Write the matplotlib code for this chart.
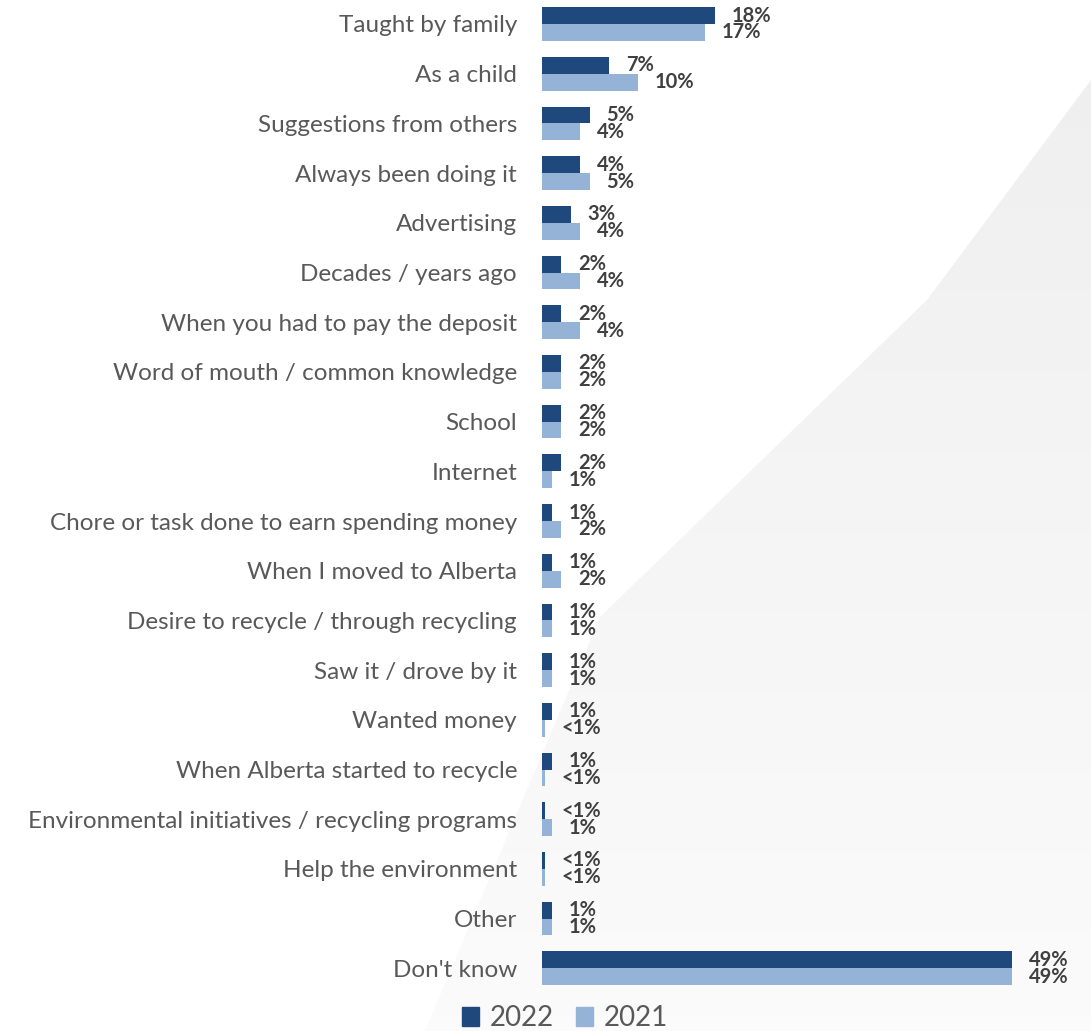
import numpy as np
import matplotlib.pyplot as plt
from matplotlib.patches import Polygon, Patch

categories = [
    "Taught by family", "As a child", "Suggestions from others",
    "Always been doing it", "Advertising", "Decades / years ago",
    "When you had to pay the deposit", "Word of mouth / common knowledge",
    "School", "Internet", "Chore or task done to earn spending money",
    "When I moved to Alberta", "Desire to recycle / through recycling",
    "Saw it / drove by it", "Wanted money", "When Alberta started to recycle",
    "Environmental initiatives / recycling programs", "Help the environment",
    "Other", "Don't know",
]
# "<1%" answers are drawn as 0.3
vals_2022 = [18, 7, 5, 4, 3, 2, 2, 2, 2, 2, 1, 1, 1, 1, 1, 1, 0.3, 0.3, 1, 49]
vals_2021 = [17, 10, 4, 5, 4, 4, 4, 2, 2, 1, 2, 2, 1, 1, 0.3, 0.3, 1, 0.3, 1, 49]
years = ["2022", "2021"]


def pct(v):
    return "<1%" if v < 1 else f"{v:g}%"


navy = "#1F497D"
light = "#95B3D7"
txt = "#404040"

W, H = 1091, 1031
fig = plt.figure(figsize=(W / 100, H / 100), dpi=100)

# soft grey wedge in the background, fading towards the bottom
bg = fig.add_axes([0, 0, 1, 1], zorder=0)
bg.set_xlim(0, W)
bg.set_ylim(H, 0)
bg.axis("off")
g = np.linspace(0.935, 0.985, 256)
img = np.repeat(np.dstack([g, g, g]).transpose(1, 0, 2), 2, axis=1)
im = bg.imshow(img, extent=[0, W, H, 0], aspect="auto", interpolation="bilinear")
wedge = Polygon([(W, 80), (927, 300), (600, 617), (425, 1031), (W, H)],
                closed=True, transform=bg.transData, facecolor="none",
                edgecolor="none")
bg.add_patch(wedge)
im.set_clip_path(wedge)

ax = fig.add_axes([542 / W, 0, (W - 542) / W, 1], zorder=1)
ax.set_facecolor("none")
px = 9.59  # pixels per percent
ax.set_xlim(0, (W - 542) / px)
row = 49.7
ax.set_ylim((H - 24) / row, -24 / row)

y = np.arange(len(categories))
bh = 0.34
ax.barh(y - bh / 2, vals_2022, height=bh, color=navy)
ax.barh(y + bh / 2, vals_2021, height=bh, color=light)

for yi, v in zip(y, vals_2022):
    ax.annotate(pct(v), (v, yi - bh / 2), xytext=(12, 0),
                textcoords="offset points", ha="left", va="center",
                fontsize=14.5, fontweight="bold", color=txt, family="Lato")
for yi, v in zip(y, vals_2021):
    ax.annotate(pct(v), (v, yi + bh / 2), xytext=(12, 0),
                textcoords="offset points", ha="left", va="center",
                fontsize=14.5, fontweight="bold", color=txt, family="Lato")

ax.set_yticks(y)
ax.set_yticklabels(categories, fontsize=17.5, color="#595959", family="Lato")
ax.tick_params(axis="y", length=0, pad=18)
ax.set_xticks([])
for s in ax.spines.values():
    s.set_visible(False)

handles = [Patch(color=navy, label=years[0]), Patch(color=light, label=years[1])]
fig.legend(handles=handles, loc="center", bbox_to_anchor=(565 / W, 1 - 1018 / H),
           ncol=2, frameon=False, handlelength=0.6, handleheight=0.7,
           handletextpad=0.4, columnspacing=0.8,
           prop={"family": "Lato", "size": 20}, labelcolor="#595959")

fig.savefig("out.png", dpi=100)
